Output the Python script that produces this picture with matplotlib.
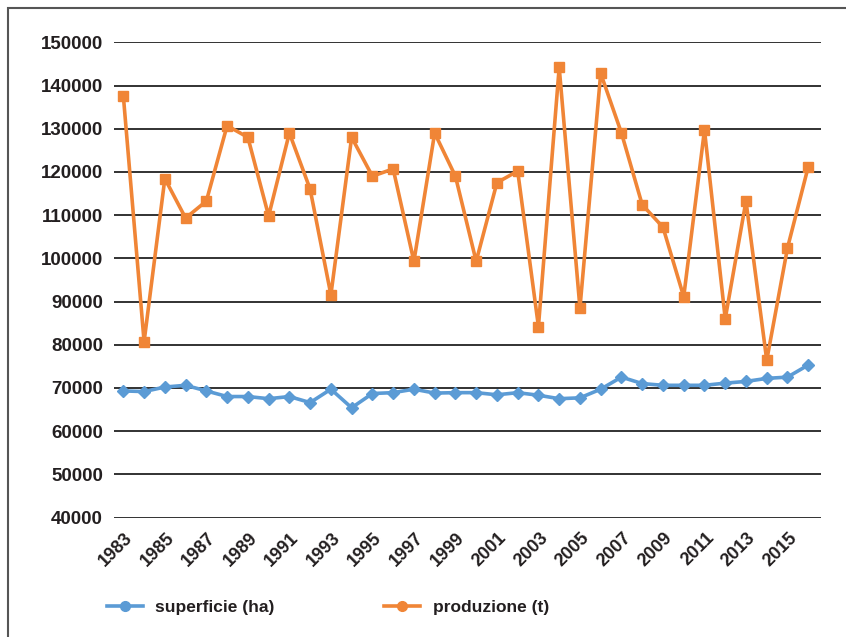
import numpy as np
import matplotlib
matplotlib.use("Agg")
import matplotlib.pyplot as plt
from matplotlib.lines import Line2D
from matplotlib.patches import Rectangle
import matplotlib.transforms as mtransforms

plt.rcParams['font.family'] = ['Liberation Sans', 'DejaVu Sans']
plt.rcParams['font.weight'] = 'bold'

years = list(range(1983, 2017))
superficie = [69300, 69150, 70200, 70600, 69300, 68000, 68000, 67500, 68000, 66600,
              69700, 65400, 68700, 68900, 69700, 68800, 68900, 68900, 68400, 68900,
              68300, 67500, 67700, 69700, 72500, 71000, 70600, 70600, 70600, 71100,
              71500, 72200, 72500, 75300]
produzione = [137600, 80700, 118450, 109300, 113250, 130700, 128000, 109800, 129000, 116000,
              91550, 128000, 119000, 120700, 99300, 129000, 119000, 99300, 117500, 120200,
              84200, 144200, 88500, 142800, 129000, 112400, 107200, 91100, 129700, 86000,
              113250, 76400, 102400, 121200]
yticks = list(range(40000, 150001, 10000))
xticks = years[::2]

blue = '#5B9BD5'
orange = '#F08536'
txt = '#231F20'

fig = plt.figure(figsize=(8.46, 6.37), dpi=100)
ax = fig.add_axes([114/846, 1 - 517.5/637, (820.7 - 114)/846, (517.5 - 42.3)/637])

ax.plot(years, superficie, color=blue, lw=2.6, marker='D', ms=6.5, zorder=3)
ax.plot(years, produzione, color=orange, lw=2.6, marker='s', ms=7, zorder=3)

ax.set_ylim(40000, 150000)
ax.set_xlim(1982.55, 2016.6)
ax.set_yticks(yticks)
ax.set_yticklabels([str(v) for v in yticks], fontsize=13.5, fontweight='bold', color=txt)
ax.set_xticks(xticks)
ax.set_xticklabels([str(v) for v in xticks], fontsize=13, fontweight='bold', color=txt)
ax.grid(axis='y', color='#222222', lw=1.3)
ax.set_axisbelow(True)
for s in ax.spines.values():
    s.set_visible(False)
ax.tick_params(axis='y', length=0, pad=8)
ax.tick_params(axis='x', length=0, pad=13)

# shift rotated year labels a bit to the right
off = mtransforms.ScaledTranslation(7/100, 0, fig.dpi_scale_trans)
for lab in ax.get_xticklabels():
    lab.set_rotation(45)
    lab.set_ha('right')
    lab.set_va('center')
    lab.set_rotation_mode('anchor')
    lab.set_transform(lab.get_transform() + off)

handles = [Line2D([], [], color=blue, lw=2.6, marker='o', ms=7),
           Line2D([], [], color=orange, lw=2.6, marker='o', ms=7)]
fig.legend(handles, ['superficie (ha)', 'produzione (t)'], loc='center left',
           bbox_to_anchor=(91/846, 1 - 607/637), ncol=2, frameon=False,
           prop={'size': 12.5, 'weight': 'bold'}, labelcolor=txt,
           handlelength=2.1, handletextpad=0.7, columnspacing=6.3)

fig.patches.append(Rectangle((8/846, -0.5), 1.5, 1.5 - 8/637,
                             transform=fig.transFigure, fill=False,
                             edgecolor='#555555', lw=1.5))

fig.savefig('out.png', dpi=100)
